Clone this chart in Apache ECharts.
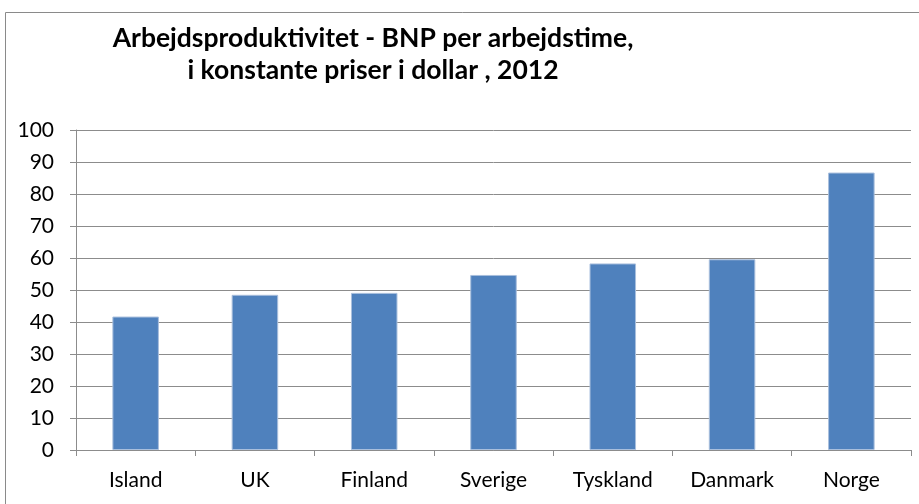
<!DOCTYPE html>
<html>
<head>
<meta charset="utf-8">
<script src="https://cdn.jsdelivr.net/npm/echarts@6/dist/echarts.min.js"></script>
<style>
  html, body { margin: 0; padding: 0; background: #fff; }
  #chart { width: 919px; height: 504px; }
</style>
</head>
<body>
<div id="chart"></div>
<script>
const categories = ['Island', 'UK', 'Finland', 'Sverige', 'Tyskland', 'Danmark', 'Norge']
const productivity = [41.7, 48.5, 49.1, 54.7, 58.3, 59.6, 86.7]
const yTicks = { min: 0, max: 100, interval: 10 }

const font = 'Lato, "Open Sans", sans-serif'

const chart = echarts.init(document.getElementById('chart'))

chart.setOption({
  animation: false,
  textStyle: { fontFamily: font },
  graphic: [
    {
      type: 'rect',
      shape: { x: 5.5, y: 12.5, width: 930, height: 520 },
      style: { fill: 'none', stroke: '#8a8a8a', lineWidth: 1 },
      silent: true,
    },
  ],
  title: {
    text: 'Arbejdsproduktivitet - BNP per arbejdstime,\ni konstante priser i dollar , 2012',
    left: 368,
    top: 17,
    textAlign: 'center',
    textStyle: {
      fontFamily: font,
      fontSize: 26.5,
      fontWeight: 'bold',
      color: '#000',
      lineHeight: 32,
    },
  },
  grid: {
    left: 76,
    right: 8,
    top: 130,
    bottom: 54,
  },
  xAxis: {
    type: 'category',
    data: categories,
    axisLine: { lineStyle: { color: '#8c8c8c', width: 1 } },
    axisTick: { show: true, alignWithLabel: false, length: 6, lineStyle: { color: '#8c8c8c' } },
    axisLabel: { color: '#000', fontSize: 21, margin: 20, fontFamily: font },
  },
  yAxis: {
    type: 'value',
    min: yTicks.min,
    max: yTicks.max,
    interval: yTicks.interval,
    axisLine: { show: true, lineStyle: { color: '#8c8c8c', width: 1 } },
    axisTick: { show: true, length: 6, lineStyle: { color: '#8c8c8c' } },
    axisLabel: { color: '#000', fontSize: 21, margin: 22, fontFamily: font },
    splitLine: { lineStyle: { color: '#8c8c8c', width: 1 } },
  },
  series: [
    {
      type: 'bar',
      data: productivity,
      barWidth: '39%',
      itemStyle: { color: '#4f81bd', borderColor: '#a9bfdd', borderWidth: 1 },
    },
  ],
})
</script>
</body>
</html>
